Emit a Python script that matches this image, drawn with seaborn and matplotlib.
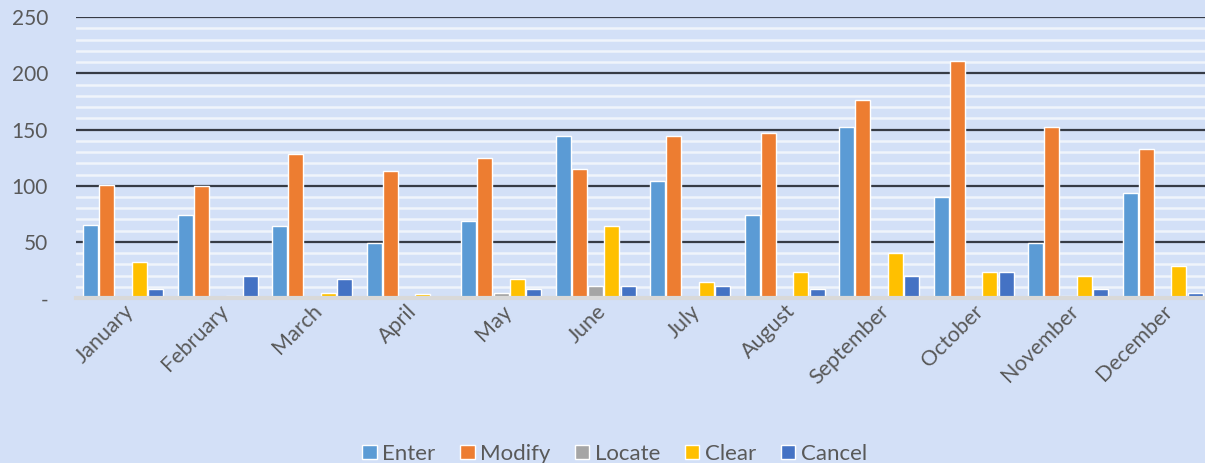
import numpy as np
import pandas as pd
import seaborn as sns
import matplotlib.pyplot as plt
from matplotlib.ticker import MultipleLocator

months = ['January', 'February', 'March', 'April', 'May', 'June', 'July',
          'August', 'September', 'October', 'November', 'December']
enter = [65, 74, 64, 49, 69, 144, 104, 74, 152, 90, 49, 94]
modify = [101, 100, 128, 113, 125, 115, 144, 147, 176, 211, 152, 133]
locate = [0, 0, 0, 0, 5, 11, 0, 0, 0, 0, 2, 0]
clear = [32, 2, 5, 4, 17, 64, 14, 23, 40, 23, 20, 29]
cancel = [8, 20, 17, 0, 8, 11, 11, 8, 20, 23, 8, 5]

series = ['Enter', 'Modify', 'Locate', 'Clear', 'Cancel']
colors = ['#5b9bd5', '#ed7d31', '#a5a5a5', '#ffc000', '#4472c4']

df = pd.DataFrame({'month': months, 'Enter': enter, 'Modify': modify,
                   'Locate': locate, 'Clear': clear, 'Cancel': cancel})
long = df.melt(id_vars='month', var_name='action', value_name='count')

sns.set_style('white')
plt.rcParams['font.family'] = ['Lato', 'DejaVu Sans']

bg = '#d3e0f7'
fig = plt.figure(figsize=(12.05, 4.63), dpi=100, facecolor=bg)
ax = fig.add_axes([0.063, 0.356, 0.941, 0.607])
ax.set_facecolor(bg)

sns.barplot(data=long, x='month', y='count', hue='action', order=months,
            hue_order=series, palette=colors, width=0.86, gap=0.08,
            saturation=1, ax=ax, zorder=3)

ax.set_ylim(0, 250)
ax.yaxis.set_major_locator(MultipleLocator(50))
ax.yaxis.set_minor_locator(MultipleLocator(10))
ax.grid(which='minor', axis='y', color='#f0f4fb', linewidth=1.8, zorder=0)
ax.grid(which='major', axis='y', color='#363b45', linewidth=1.6, zorder=1)
ax.set_axisbelow(True)

for s in ['top', 'right', 'left']:
    ax.spines[s].set_visible(False)
ax.spines['bottom'].set_color('#d9d9d9')
ax.spines['bottom'].set_linewidth(3)
ax.spines['bottom'].set_zorder(4)

ax.set_yticks([0, 50, 100, 150, 200, 250])
ax.set_yticklabels(['-', '50', '100', '150', '200', '250'])
ax.tick_params(axis='y', which='both', length=0, labelsize=15,
               labelcolor='#595959', pad=20)
ax.tick_params(axis='x', length=0, labelsize=15.5, labelcolor='#595959', pad=2)
plt.setp(ax.get_xticklabels(), rotation=45, ha='right',
         rotation_mode='anchor')

ax.set_xlabel('')
ax.set_ylabel('')

handles, labels = ax.get_legend_handles_labels()
ax.legend_.remove()
fig.legend(handles, labels, loc='lower center', ncol=5, frameon=False,
           bbox_to_anchor=(0.51, -0.045), fontsize=16, handlelength=0.65,
           handleheight=0.65, handletextpad=0.25, columnspacing=1.1,
           labelcolor='#595959')

fig.savefig('out.png', dpi=100, facecolor=bg)
